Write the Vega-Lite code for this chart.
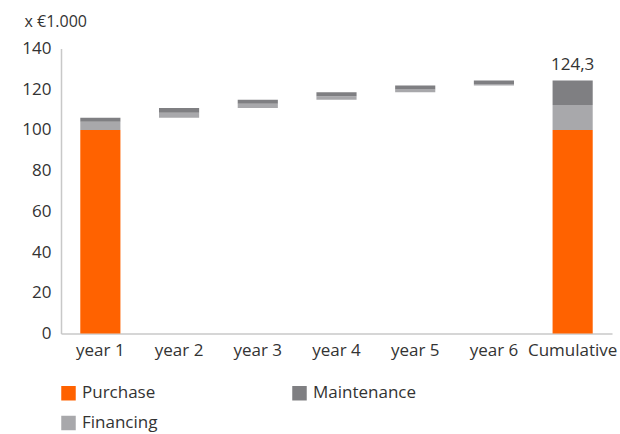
{
  "$schema": "https://vega.github.io/schema/vega-lite/v6.json",
  "width": 551,
  "height": 285,
  "autosize": {"type": "none"},
  "padding": {"left": 61, "top": 48.5, "right": 8, "bottom": 100.5},
  "background": "white",
  "config": {
    "view": {"stroke": null},
    "font": "Open Sans",
    "axis": {"labelFont": "Open Sans", "titleFont": "Open Sans"},
    "legend": {"labelFont": "Open Sans"}
  },
  "layer": [
    {
      "data": {
        "values": [
          {"x": "year 1", "series": "Purchase", "lo": 0, "hi": 100},
          {"x": "year 1", "series": "Financing", "lo": 100, "hi": 104},
          {"x": "year 1", "series": "Maintenance", "lo": 104, "hi": 106},
          {"x": "year 2", "series": "Financing", "lo": 106, "hi": 108.5},
          {"x": "year 2", "series": "Maintenance", "lo": 108.5, "hi": 110.8},
          {"x": "year 3", "series": "Financing", "lo": 110.8, "hi": 112.8},
          {"x": "year 3", "series": "Maintenance", "lo": 112.8, "hi": 114.8},
          {"x": "year 4", "series": "Financing", "lo": 114.8, "hi": 116.5},
          {"x": "year 4", "series": "Maintenance", "lo": 116.5, "hi": 118.5},
          {"x": "year 5", "series": "Financing", "lo": 118.5, "hi": 119.8},
          {"x": "year 5", "series": "Maintenance", "lo": 119.8, "hi": 121.8},
          {"x": "year 6", "series": "Financing", "lo": 121.8, "hi": 122.6},
          {"x": "year 6", "series": "Maintenance", "lo": 122.6, "hi": 124.3},
          {"x": "Cumulative", "series": "Purchase", "lo": 0, "hi": 100},
          {"x": "Cumulative", "series": "Financing", "lo": 100, "hi": 112.3},
          {"x": "Cumulative", "series": "Maintenance", "lo": 112.3, "hi": 124.3}
        ]
      },
      "mark": {"type": "bar"},
      "encoding": {
        "x": {
          "field": "x",
          "type": "nominal",
          "sort": ["year 1", "year 2", "year 3", "year 4", "year 5", "year 6", "Cumulative"],
          "scale": {"paddingInner": 0.49, "paddingOuter": 0.245},
          "axis": {
            "title": null,
            "labelAngle": 0,
            "labelFontSize": 17,
            "labelColor": "#333333",
            "labelPadding": 9,
            "ticks": false,
            "domainColor": "#c8c8c8",
            "domainWidth": 1.5
          }
        },
        "y": {
          "field": "lo",
          "type": "quantitative",
          "scale": {"domain": [0, 140], "nice": false},
          "axis": {
            "values": [0, 20, 40, 60, 80, 100, 120, 140],
            "grid": false,
            "ticks": false,
            "labelFontSize": 17,
            "labelColor": "#333333",
            "labelPadding": 10,
            "domainColor": "#c8c8c8",
            "domainWidth": 1.5,
            "title": "x €1.000",
            "titleAngle": 0,
            "titleAlign": "left",
            "titleBaseline": "alphabetic",
            "titleX": -37,
            "titleY": -22.5,
            "titleFontSize": 16,
            "titleFontWeight": "normal",
            "titleColor": "#333333"
          }
        },
        "y2": {"field": "hi"},
        "color": {
          "field": "series",
          "type": "nominal",
          "scale": {
            "domain": ["Purchase", "Maintenance", "Financing"],
            "range": ["#FF6200", "#7F7F82", "#A8A8AB"]
          },
          "legend": {
            "title": null,
            "orient": "none",
            "legendX": -1,
            "legendY": 336,
            "direction": "horizontal",
            "columns": 2,
            "symbolType": "square",
            "symbolSize": 210,
            "symbolStrokeWidth": 0,
            "symbolOpacity": 1,
            "labelFontSize": 17,
            "labelColor": "#333333",
            "labelOffset": 5,
            "columnPadding": 133,
            "rowPadding": 12
          }
        }
      }
    },
    {
      "data": {"values": [{"x": "Cumulative", "value": 124.3, "label": "124,3"}]},
      "mark": {"type": "text", "dy": -6, "fontSize": 17, "color": "#333333", "baseline": "bottom"},
      "encoding": {
        "x": {"field": "x", "type": "nominal", "sort": ["year 1", "year 2", "year 3", "year 4", "year 5", "year 6", "Cumulative"]},
        "y": {"field": "value", "type": "quantitative"},
        "text": {"field": "label"}
      }
    }
  ]
}
